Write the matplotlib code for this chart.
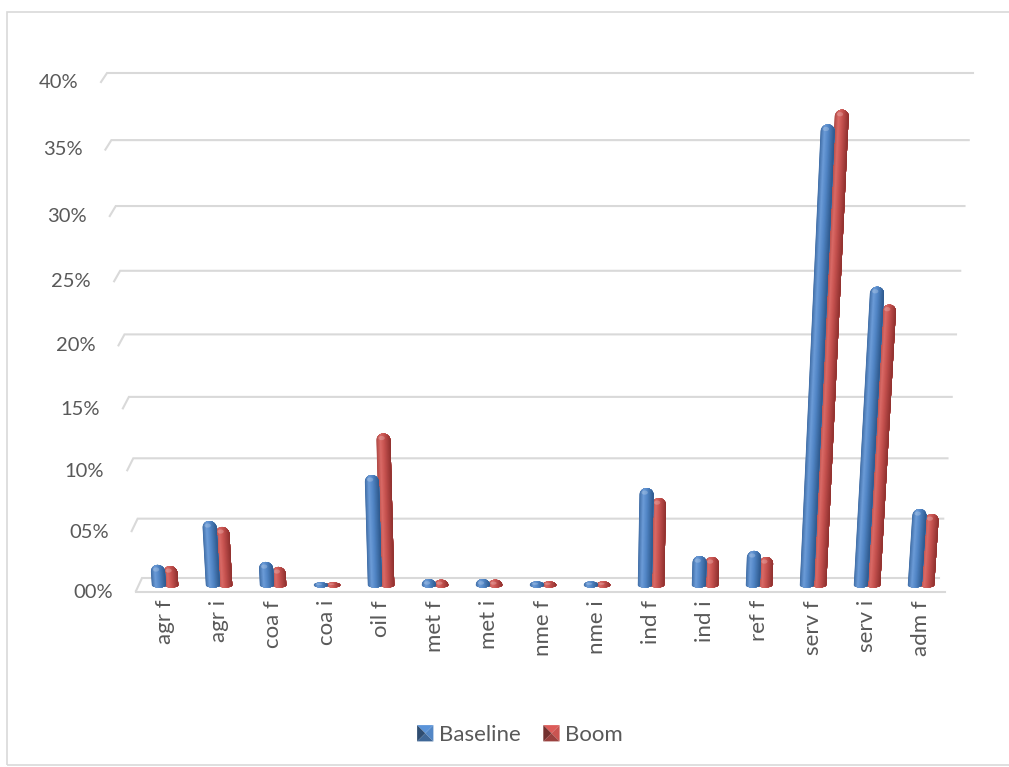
import numpy as np
import matplotlib
matplotlib.use("Agg")
import matplotlib.pyplot as plt
from matplotlib.patches import Polygon, Rectangle, Ellipse
from matplotlib.transforms import IdentityTransform
from matplotlib.lines import Line2D
from matplotlib.colors import to_rgb
from matplotlib.legend_handler import HandlerBase

# ---------------- data ----------------
categories = ["agr f", "agr i", "coa f", "coa i", "oil f", "met f", "met i",
              "nme f", "nme i", "ind f", "ind i", "ref f", "serv f", "serv i", "adm f"]
baseline = [0.0170, 0.0539, 0.0195, 0.0015, 0.0920, 0.0050, 0.0050,
            0.0030, 0.0030, 0.0813, 0.0245, 0.0288, 0.3670, 0.2430, 0.0639]
boom = [0.0161, 0.0489, 0.0153, 0.0015, 0.1260, 0.0045, 0.0045,
        0.0030, 0.0030, 0.0730, 0.0237, 0.0237, 0.3780, 0.2290, 0.0597]
series_names = ["Baseline", "Boom"]
y_ticks = [0.00, 0.05, 0.10, 0.15, 0.20, 0.25, 0.30, 0.35, 0.40]

# ---------------- style ----------------
W, H = 1009, 767
FONT = "Lato"
TXT = "#595959"
GRID = "#D9D9D9"
BLUE_STOPS = [(0.0, "#3A679F"), (0.3, "#6C9CD8"), (0.55, "#5286C6"), (1.0, "#2B5689")]
RED_STOPS = [(0.0, "#A84340"), (0.3, "#DA6A66"), (0.55, "#C6524F"), (1.0, "#8B2F2D")]
K = 0.17  # perspective factor of value axis

fig = plt.figure(figsize=(W / 100, H / 100), dpi=100)
ax = fig.add_axes([138 / W, (H - 585) / H, 810 / W, (585 - 80) / H])
ax.set_yscale("function", functions=(lambda v: v / (1 - K * v), lambda u: u / (1 + K * u)))
ax.set_xlim(-0.5, len(categories) - 0.5)
ax.set_ylim(0, 0.40)
ax.axis("off")

ID = IdentityTransform()


def to_px(x, y):
    return ax.transData.transform((x, y))


def interp_color(t, stops):
    for (t0, c0), (t1, c1) in zip(stops[:-1], stops[1:]):
        if t <= t1:
            f = (t - t0) / (t1 - t0)
            a, b = np.array(to_rgb(c0)), np.array(to_rgb(c1))
            return tuple(a + (b - a) * f)
    return to_rgb(stops[-1][1])


LEAN_CX = 540.0
LEAN_F = 0.0866 / 505.0


def lean(pts, xc, y0):
    pts = np.asarray(pts, dtype=float).copy()
    pts[:, 0] += (xc - LEAN_CX) * LEAN_F * (pts[:, 1] - y0)
    return pts


# ---------------- back wall gridlines & floor ----------------
for v in y_ticks:
    _, yb = to_px(-0.5, v)
    y_back = yb + 7
    pct = v * 100
    L = 142 - 0.875 * pct
    R = 939 + 0.85 * pct
    dy = 13 - 4 * v / 0.40
    ax.add_line(Line2D([L - 6, L, R], [y_back - dy, y_back, y_back], transform=ID,
                       color=GRID, lw=1.5, clip_on=False, zorder=0.5,
                       solid_joinstyle="miter"))
# floor front edge
_, y0b = to_px(-0.5, 0)
ax.add_line(Line2D([136, 945], [y0b - 7, y0b - 7], transform=ID, color=GRID,
                   lw=1.5, clip_on=False, zorder=0.5))

# ---------------- cylinders ----------------
bar_w = 0.26
offsets = [-0.115, 0.115]
series = [baseline, boom]
stops = [BLUE_STOPS, RED_STOPS]
b_semi = 2.5

for s_idx in [1, 0]:  # red behind, blue in front
    vals = series[s_idx]
    zb = 3 if s_idx == 0 else 2
    for i, v in enumerate(vals):
        xd = i + offsets[s_idx]
        xc, y0 = to_px(xd, 0)
        _, yt = to_px(xd, v)
        h = yt - y0
        r = (to_px(xd + bar_w / 2, 0)[0] - to_px(xd - bar_w / 2, 0)[0]) / 2
        rc = max(min(r, h), b_semi)
        yc = max(y0, y0 + h - rc)
        th1 = np.linspace(np.pi, 2 * np.pi, 30)
        th2 = np.linspace(0, np.pi, 30)
        bottom = np.column_stack([xc + r * np.cos(th1), y0 + b_semi * np.sin(th1)])
        top = np.column_stack([xc + r * np.cos(th2), yc + rc * np.sin(th2)])
        pts = lean(np.vstack([bottom, top]), xc, y0)
        shape = Polygon(pts, closed=True, transform=ID, fc="none", ec="none", zorder=zb)
        ax.add_patch(shape)
        n = 26
        edges = np.linspace(xc - r - 0.5, xc + r + 0.5, n + 1)
        right = edges[-1] + 1
        for k in range(n):
            t = (k + 0.5) / n
            col = interp_color(t, stops[s_idx])
            strip = [[edges[k], y0 - b_semi - 2], [right, y0 - b_semi - 2],
                     [right, yc + rc + 2], [edges[k], yc + rc + 2]]
            p = Polygon(lean(strip, xc, y0), closed=True, transform=ID, fc=col,
                        ec="none", lw=0, zorder=zb + k * 0.001)
            p.set_clip_path(shape)
            ax.add_patch(p)
        # soft highlight on the cap
        hl_c = lean([[xc - r * 0.25, yc + rc * 0.35]], xc, y0)[0]
        hl = Ellipse(hl_c, r * 0.9, max(rc * 0.6, 1.5), transform=ID, fc="white",
                     ec="none", alpha=0.22, zorder=zb + 0.5)
        hl.set_clip_path(shape)
        ax.add_patch(hl)

# ---------------- value labels ----------------
for v in y_ticks:
    _, yb = to_px(-0.5, v)
    y_lab = yb - (7 - 5 * v / 0.40)
    x_right = 113 - 0.875 * v * 100
    ax.text(x_right, y_lab, f"{int(round(v * 100)):02d}%", transform=ID,
            ha="right", va="center", fontsize=14.5, color=TXT, family=FONT,
            clip_on=False)

# ---------------- category labels ----------------
for i, cat in enumerate(categories):
    x, _ = to_px(i, 0)
    ax.text(x, H - 600, cat, transform=ID, rotation=90, ha="center", va="top",
            fontsize=16, color=TXT, family=FONT, clip_on=False)


# ---------------- legend ----------------
class BevelHandler(HandlerBase):
    def create_artists(self, legend, orig_handle, xdescent, ydescent, width,
                       height, fontsize, trans):
        base = np.array(to_rgb(orig_handle.get_facecolor()))
        s = min(width, height)
        x0 = -xdescent + (width - s) / 2
        y0 = -ydescent + (height - s) / 2
        cx, cy = x0 + s / 2, y0 + s / 2
        c = [x0, y0], [x0 + s, y0], [x0 + s, y0 + s], [x0, y0 + s]
        tri = [
            ([c[3], c[2], [cx, cy]], np.clip(base * 1.15, 0, 1)),   # top
            ([c[1], c[2], [cx, cy]], np.clip(base * 1.05, 0, 1)),   # right
            ([c[0], c[1], [cx, cy]], base * 0.8),                   # bottom
            ([c[0], c[3], [cx, cy]], base * 0.6),                   # left
        ]
        return [Polygon(verts, closed=True, fc=col, ec="none", transform=trans)
                for verts, col in tri]


handles = [Rectangle((0, 0), 1, 1, fc="#4F81BD"), Rectangle((0, 0), 1, 1, fc="#C0504D")]
leg = fig.legend(handles, series_names, loc="center", bbox_to_anchor=(520 / W, (H - 735) / H),
                 ncol=2, frameon=False, handler_map={Rectangle: BevelHandler()},
                 handlelength=0.75, handleheight=0.75, handletextpad=0.25,
                 columnspacing=1.0, prop={"family": FONT, "size": 16})
for t in leg.get_texts():
    t.set_color(TXT)

# ---------------- outer frame ----------------
fig.add_artist(Rectangle((7, H - 765), W - 7 + 5, 765 - 12, transform=ID,
                         fc="none", ec=GRID, lw=1.2))

fig.savefig("out.png", dpi=100)
